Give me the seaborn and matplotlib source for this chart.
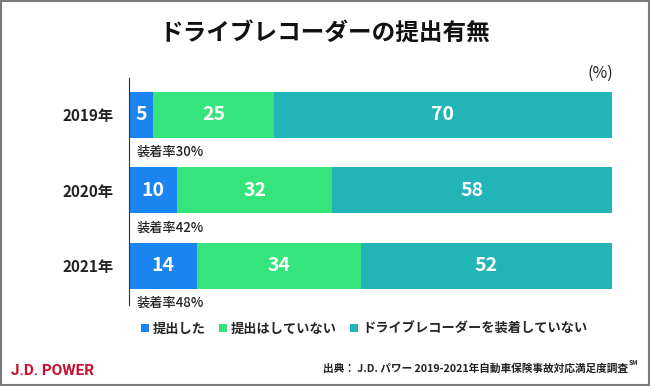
import matplotlib
matplotlib.use("Agg")
import matplotlib.pyplot as plt
import seaborn as sns
import numpy as np
import pandas as pd
from matplotlib.patches import Patch, Rectangle

# Data
years = ["2019年", "2020年", "2021年"]
submitted = [5, 10, 14]
not_submitted = [25, 32, 34]
no_recorder = [70, 58, 52]
install_rate = ["装着率30%", "装着率42%", "装着率48%"]
series_names = ["提出した", "提出はしていない", "ドライブレコーダーを装着していない"]
colors = ["#1a84f0", "#35e47a", "#22b5b8"]

sns.set_theme(style="white")
plt.rcParams["font.family"] = ["Noto Sans CJK JP", "DejaVu Sans"]

df = pd.DataFrame({"year": years, "s1": submitted, "s2": not_submitted, "s3": no_recorder})
df["c1"] = df["s1"]
df["c2"] = df["s1"] + df["s2"]
df["c3"] = df["c2"] + df["s3"]

fig = plt.figure(figsize=(6.5, 3.86), dpi=100)
ax = fig.add_axes([0.1985, 0.2098, 0.743, 0.588])

# stacked bars: draw cumulative totals, widest first
for col, c in zip(["c3", "c2", "c1"], colors[::-1]):
    sns.barplot(data=df, x=col, y="year", color=c, width=0.61, orient="h",
                saturation=1, linewidth=0, ax=ax)

# value labels
for i in range(len(years)):
    segs = [submitted[i], not_submitted[i], no_recorder[i]]
    left = 0
    for v in segs:
        ax.text(left + v / 2, i, str(v), ha="center", va="center", color="white",
                fontsize=14, fontweight="bold")
        left += v
    ax.text(1.6, i + 0.49, install_rate[i], ha="left", va="center", fontsize=9.5,
            fontweight="medium", color="#222222")

ax.set_xlim(0, 100)
ax.set_ylim(2.52, -0.49)
ax.set_xlabel("")
ax.set_ylabel("")
ax.set_xticks([])
for s in ["top", "right", "bottom"]:
    ax.spines[s].set_visible(False)
ax.spines["left"].set_color("#333333")
ax.spines["left"].set_linewidth(0.8)
ax.tick_params(axis="y", length=0, pad=11, labelsize=11)
for t in ax.get_yticklabels():
    t.set_fontweight("bold")
    t.set_color("#222222")

# title and unit
fig.text(0.5, 0.915, "ドライブレコーダーの提出有無", ha="center", va="center",
         fontsize=17, fontweight="bold", color="#111111")
fig.text(0.923, 0.81, "(%)", ha="center", va="center", fontsize=11.5, color="#222222")

# legend
handles = [Patch(facecolor=c, edgecolor="none") for c in colors]
leg = fig.legend(handles, series_names, loc="center left", bbox_to_anchor=(0.217, 0.148),
                 ncol=3, frameon=False, fontsize=9.5, handlelength=0.6, handleheight=0.6,
                 handletextpad=0.3, columnspacing=1.0, borderaxespad=0, borderpad=0)
for t in leg.get_texts():
    t.set_fontweight("bold")

# footer
fig.text(0.017, 0.04, "J.D. POWER", ha="left", va="center", fontsize=11,
         fontweight="bold", color="#c8102e", family=["Roboto", "DejaVu Sans"])
fig.text(0.966, 0.045, "出典： J.D. パワー 2019-2021年自動車保険事故対応満足度調査",
         ha="right", va="center", fontsize=7.7, fontweight="bold", color="#222222")
fig.text(0.967, 0.06, "SM", ha="left", va="center", fontsize=4.5, fontweight="bold",
         color="#222222")

# outer border
fig.patches.append(Rectangle((0.001, 0.002), 0.997, 0.996, transform=fig.transFigure,
                             fill=False, edgecolor="#7a7a7a", linewidth=1.5))

fig.savefig("out.png", dpi=100)
